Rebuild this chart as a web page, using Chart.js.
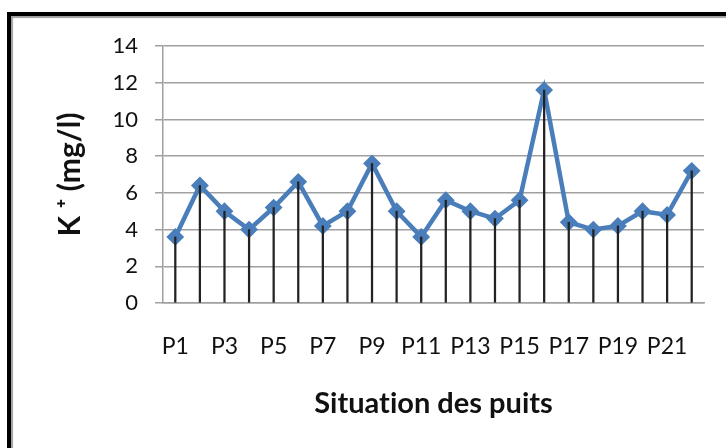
<!DOCTYPE html>
<html>
<head>
<meta charset="utf-8">
<script src="https://cdn.jsdelivr.net/npm/chart.js@4"></script>
<style>
  html, body { margin: 0; padding: 0; background: #fff; width: 726px; height: 448px; overflow: hidden; }
  #frame { position: absolute; left: 7px; top: 12px; width: 800px; height: 800px;
           border-top: 4px solid #000; border-left: 4px solid #000;
           box-shadow: inset 2px 2px 1px #a0a0a0; }
  #c { position: absolute; left: 0; top: 0; }
</style>
</head>
<body>
<div id="frame"></div>
<canvas id="c" width="726" height="448"></canvas>
<script>
const categories = ['P1','P2','P3','P4','P5','P6','P7','P8','P9','P10','P11','P12','P13','P14','P15','P16','P17','P18','P19','P20','P21','P22'];
const kValues = [3.6, 6.4, 5.0, 4.0, 5.2, 6.6, 4.2, 5.0, 7.6, 5.0, 3.6, 5.6, 5.0, 4.6, 5.6, 11.6, 4.4, 4.0, 4.2, 5.0, 4.8, 7.2];
const yTicks = [0, 2, 4, 6, 8, 10, 12, 14];
const xTitle = 'Situat\u200Cion des puits';
const yTitle = 'K \u207A (mg/l)';

const FONT = 'Lato, "Open Sans", "Liberation Sans", sans-serif';

new Chart(document.getElementById('c'), {
  type: 'line',
  data: {
    labels: categories,
    datasets: [
      {
        type: 'bar',
        label: 'drop',
        data: kValues,
        backgroundColor: '#222',
        borderWidth: 0,
        barThickness: 1.6,
        order: 0
      },
      {
        type: 'line',
        label: 'K+',
        data: kValues,
        borderColor: '#4a7ebb',
        backgroundColor: '#4a7ebb',
        borderWidth: 4.5,
        pointStyle: 'rectRot',
        pointRadius: 7.5,
        pointBorderWidth: 2,
        pointBorderColor: '#4a7ebb',
        pointBackgroundColor: '#4a7ebb',
        tension: 0,
        order: 1
      }
    ]
  },
  options: {
    responsive: false,
    animation: false,
    devicePixelRatio: 1,
    layout: { padding: { left: 0, top: 46, right: 22, bottom: 0 } },
    plugins: { legend: { display: false }, tooltip: { enabled: false } },
    scales: {
      x: {
        offset: true,
        grid: { display: false },
        border: { display: true, color: '#a0a0a0', width: 1.5 },
        ticks: {
          autoSkip: false, maxRotation: 0, minRotation: 0,
          color: '#111', padding: 22,
          font: { family: FONT, size: 23 },
          callback: function(v, i) { return i % 2 === 0 ? categories[i] : ''; }
        },
        title: {
          display: true, text: xTitle, color: '#111',
          font: { family: FONT, size: 29, weight: 'bold' },
          padding: { top: 0, bottom: 27 }
        },
        afterFit: function(s) { s.height = 145; }
      },
      y: {
        min: 0, max: 14,
        afterBuildTicks: function(s) { s.ticks = yTicks.map(v => ({ value: v })); },
        grid: { color: '#a0a0a0', lineWidth: 1.5, tickLength: 8, drawTicks: true },
        border: { display: true, color: '#a0a0a0', width: 1.5 },
        ticks: {
          color: '#111', padding: 17,
          font: { family: FONT, size: 22 }
        },
        title: {
          display: true, text: yTitle, color: '#111',
          font: { family: FONT, size: 30, weight: 'bold' },
          padding: { top: 52, bottom: 0 }
        },
        afterFit: function(s) { s.width = 163; }
      }
    }
  }
});
</script>
</body>
</html>
